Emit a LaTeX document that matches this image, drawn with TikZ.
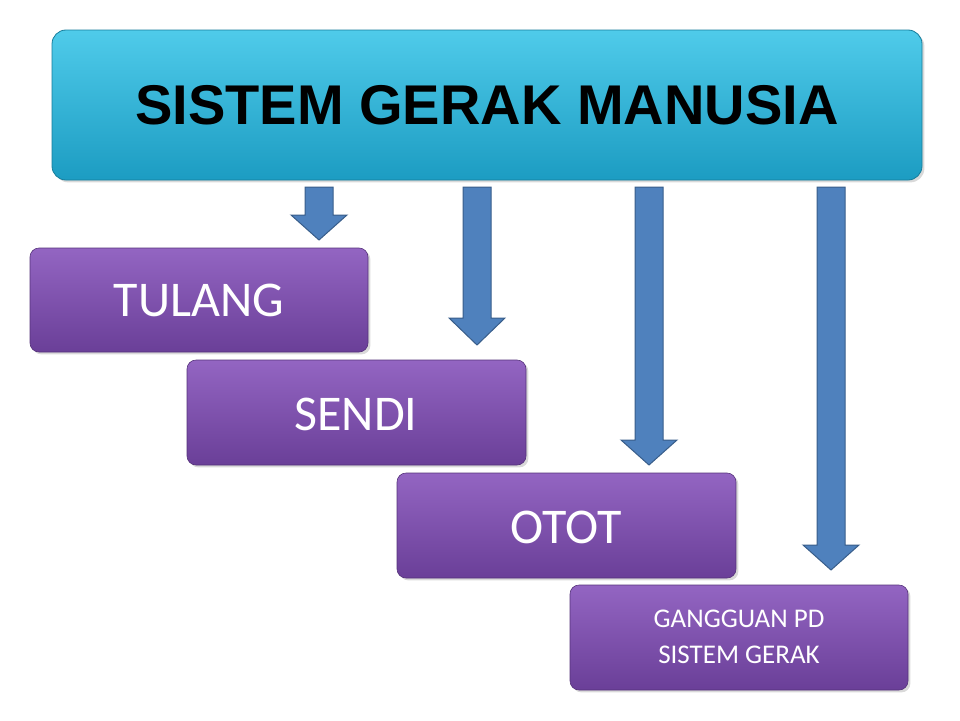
\documentclass[tikz,border=0pt]{standalone}
\usepackage{fontspec}
\setmainfont{Carlito}
\newfontfamily\headfont{Liberation Sans}
\usetikzlibrary{shadows}
\definecolor{cyanA}{HTML}{4FCBEA}
\definecolor{cyanB}{HTML}{1C9CC2}
\definecolor{purA}{HTML}{9365C2}
\definecolor{purB}{HTML}{6A3F98}
\definecolor{arrF}{HTML}{4F81BD}
\definecolor{arrD}{HTML}{385D8A}
\tikzset{
 headbox/.style={rounded corners=14pt, draw=cyanB!80!black, line width=0.8pt, top color=cyanA, bottom color=cyanB, drop shadow={opacity=0.3}},
 pbox/.style={rounded corners=9pt, draw=purB!80!black, line width=0.6pt, top color=purA, bottom color=purB, drop shadow={opacity=0.3}},
 barrow/.style={fill=arrF, draw=arrD, line width=1pt, line join=miter},
 ptext/.style={text=white, font=\fontsize{50}{56}\selectfont}
}
\begin{document}
\begin{tikzpicture}[x=1pt,y=-1pt]
\useasboundingbox (0,0) rectangle (960,720);
\draw[headbox] (52,30) rectangle (922,180);
\node[font=\headfont\bfseries\fontsize{56}{60}\selectfont] (head) at (487,105) {SISTEM GERAK MANUSIA};
% arrows
\foreach \xc/\yb/\tip in {319/215/240, 477/318/345, 649/440/465, 831/545/570}{
 \draw[barrow] (\xc-14,187) -- (\xc+14,187) -- (\xc+14,\yb) -- (\xc+28,\yb) -- (\xc,\tip) -- (\xc-28,\yb) -- (\xc-14,\yb) -- cycle;
}
\draw[pbox] (30,248) rectangle (368,352);
\node[ptext] (tulang) at (199,300) {TULANG};
\draw[pbox] (187,360) rectangle (526,465);
\node[ptext] (sendi) at (356,414) {SENDI};
\draw[pbox] (397,473) rectangle (736,578);
\node[ptext] (otot) at (566,527) {OTOT};
\draw[pbox] (570,585) rectangle (908,690);
\node[text=white, font=\fontsize{27}{36}\selectfont, align=center] (gang) at (739,637) {GANGGUAN PD\\SISTEM GERAK};
\end{tikzpicture}
\end{document}
